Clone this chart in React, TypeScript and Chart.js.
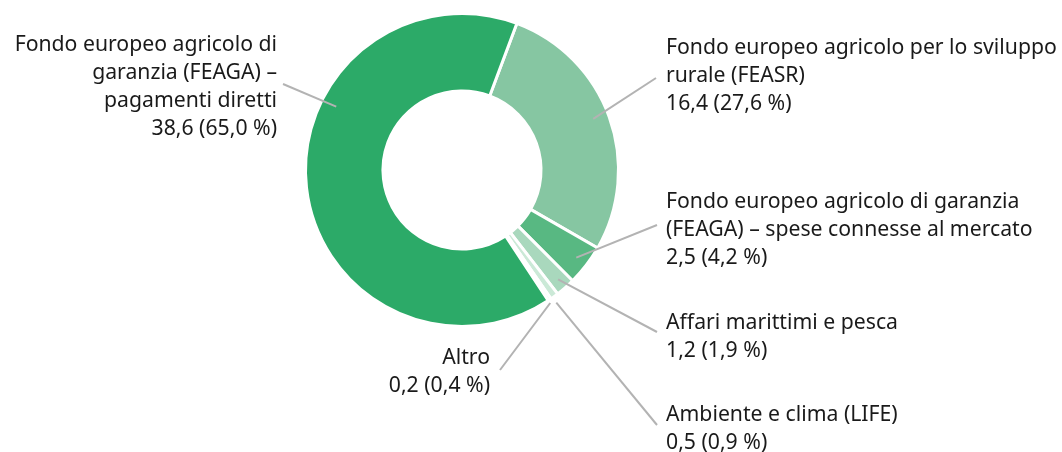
import React, { useEffect, useRef } from 'react';
import { Chart, registerables } from 'chart.js';
Chart.register(...registerables);

// Data (clockwise from the top-right)
const categories = [
  'Fondo europeo agricolo per lo sviluppo rurale (FEASR)',
  'Fondo europeo agricolo di garanzia (FEAGA) – spese connesse al mercato',
  'Affari marittimi e pesca',
  'Ambiente e clima (LIFE)',
  'Altro',
  'Fondo europeo agricolo di garanzia (FEAGA) – pagamenti diretti',
];
const values = [16.4, 2.5, 1.2, 0.5, 0.2, 38.6];
const valueLabels = ['16,4', '2,5', '1,2', '0,5', '0,2', '38,6'];
const percentLabels = ['27,6 %', '4,2 %', '1,9 %', '0,9 %', '0,4 %', '65,0 %'];
const labelLines = [
  ['Fondo europeo agricolo per lo sviluppo', 'rurale (FEASR)'],
  ['Fondo europeo agricolo di garanzia', '(FEAGA) – spese connesse al mercato'],
  ['Affari marittimi e pesca'],
  ['Ambiente e clima (LIFE)'],
  ['Altro'],
  ['Fondo europeo agricolo di', 'garanzia (FEAGA) –', 'pagamenti diretti'],
];

// Styles / layout
const colors = ['#86c6a2', '#58b882', '#a9d8bd', '#cbe9d7', '#e2f3e9', '#2caa68'];
const FONT_FAMILY = '"Noto Sans", "Open Sans", sans-serif';
const LINE_H = 28;
const labelLayout = [
  { x: 666, y: 48, align: 'left', end: [656, 78], frac: 0.485, r: 0.9 },
  { x: 666, y: 202, align: 'left', end: [657, 225], frac: 0.5, r: 0.92 },
  { x: 666, y: 323, align: 'left', end: [657, 332], frac: 0.5, r: 0.93 },
  { x: 666, y: 415, align: 'left', end: [657, 425], frac: 0.75, r: 1.04 },
  { x: 490, y: 358, align: 'right', end: [500, 370], frac: 0.9, r: 1.02 },
  { x: 277, y: 45, align: 'right', end: [283, 84], frac: 0.642, r: 0.9 },
];

let fontSizeCache = 0;

const labelPlugin = {
  id: 'leaderLabels',
  afterDraw(chart: any) {
    const ctx = chart.ctx;
    const meta = chart.getDatasetMeta(0);
    if (!fontSizeCache) {
      ctx.save();
      ctx.font = `20px ${FONT_FAMILY}`;
      const w = ctx.measureText('Fondo europeo agricolo per lo sviluppo').width;
      ctx.restore();
      fontSizeCache = Math.min(24, Math.max(14, (20 * 391) / w));
    }
    ctx.save();
    meta.data.forEach((arc: any, i: number) => {
      const L = labelLayout[i];
      const p = arc.getProps(['x', 'y', 'startAngle', 'endAngle', 'outerRadius'], true);
      const a = p.startAngle + (p.endAngle - p.startAngle) * L.frac;
      const sx = p.x + Math.cos(a) * p.outerRadius * L.r;
      const sy = p.y + Math.sin(a) * p.outerRadius * L.r;
      ctx.strokeStyle = '#b3b3b3';
      ctx.lineWidth = 2;
      ctx.beginPath();
      ctx.moveTo(sx, sy);
      ctx.lineTo(L.end[0], L.end[1]);
      ctx.stroke();

      ctx.fillStyle = '#1a1a1a';
      ctx.font = `${fontSizeCache}px ${FONT_FAMILY}`;
      ctx.textAlign = L.align;
      ctx.textBaseline = 'middle';
      const lines = [...labelLines[i], `${valueLabels[i]} (${percentLabels[i]})`];
      lines.forEach((t, k) => ctx.fillText(t, L.x, L.y + k * LINE_H));
    });
    ctx.restore();
  },
};

export default function App() {
  const ref = useRef<HTMLCanvasElement>(null);
  useEffect(() => {
    document.body.style.margin = '0';
    const chart = new Chart(ref.current!, {
      type: 'doughnut',
      data: {
        labels: categories,
        datasets: [
          {
            data: values,
            backgroundColor: colors,
            borderColor: '#ffffff',
            borderWidth: 3,
            hoverOffset: 0,
          },
        ],
      },
      options: {
        animation: false,
        responsive: false,
        rotation: 20.5,
        cutout: '50.5%',
        layout: { padding: { left: 304, right: 442, top: 12, bottom: 124 } },
        plugins: { legend: { display: false }, tooltip: { enabled: false } },
        events: [],
      },
      plugins: [labelPlugin],
    });
    return () => chart.destroy();
  }, []);
  return (
    <div style={{ width: 1062, height: 452, background: '#fff' }}>
      <canvas ref={ref} width={1062} height={452} style={{ display: 'block' }} />
    </div>
  );
}
